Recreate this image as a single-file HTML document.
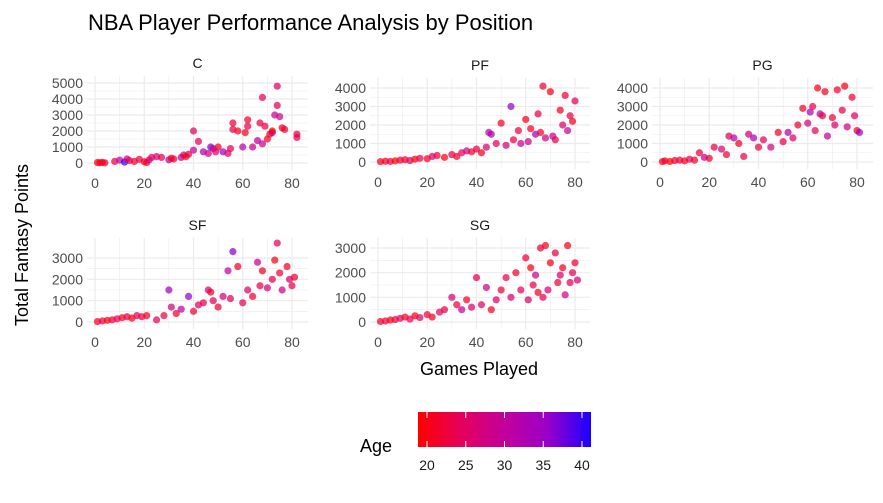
<!DOCTYPE html>
<html><head><meta charset="utf-8"><style>
body{margin:0;background:#fff;font-family:"Liberation Sans",sans-serif}
svg text{font-family:"Liberation Sans",sans-serif}
</style></head><body>
<svg id="c" width="883" height="498" xmlns="http://www.w3.org/2000/svg">
<defs><linearGradient id="g" x1="0" x2="1"><stop offset="0" stop-color="#ff0000"/><stop offset="0.25" stop-color="#e4005a"/><stop offset="0.5" stop-color="#c2009c"/><stop offset="0.75" stop-color="#9a00c8"/><stop offset="1" stop-color="#1a00ff"/></linearGradient></defs>
<text x="88" y="30" font-size="22" fill="#000">NBA Player Performance Analysis by Position</text>
<text transform="translate(28,245) rotate(-90)" text-anchor="middle" font-size="18">Total Fantasy Points</text>
<text x="479" y="375" text-anchor="middle" font-size="18">Games Played</text>
<g>
<text x="360" y="452" font-size="18">Age</text>
<rect x="418" y="412" width="173" height="35" fill="url(#g)"/>
<g id="lt"></g>
</g>
<g id="panels"></g>
</svg>
<script>
const positions=["C","PF","PG","SF","SG"];
const gamesC=[1,2,3,4,8,10,12,13,14,16,18,20,21,22,23,25,27,30,31,32,35,36,37,38,40,40,42,44,46,47,48,49,50,52,54,55,56,56,58,60,61,62,62,64,66,67,68,68,69,70,71,72,72,73,74,74,75,76,77,82,82];
const pointsC=[30,20,40,10,100,180,60,250,150,100,230,80,30,200,350,400,350,200,300,250,350,500,400,550,800,2000,1350,700,600,1000,900,700,1000,700,600,900,2100,2500,2000,1000,1900,2300,2700,1000,1400,2500,4100,1200,2300,1500,1800,1900,2000,3000,4800,3600,2900,2200,2100,1800,1600];
const agesC=[22,21,20,23,24,30,40,28,25,22,24,21,22,27,25,28,24,30,22,23,31,26,20,24,30,25,25,33,28,36,29,27,22,35,26,24,24,23,22,31,22,24,23,28,31,24,25,29,24,22,21,33,20,29,26,25,28,22,23,24,25];
const gamesPF=[1,3,5,7,9,11,13,15,17,20,22,24,27,30,32,34,36,38,40,42,44,45,46,48,50,52,54,55,57,58,60,61,62,64,65,66,67,68,70,71,72,74,75,76,77,78,79,80];
const pointsPF=[20,40,30,60,100,120,80,150,200,180,300,350,250,400,300,500,600,550,700,500,800,1600,1500,1000,2100,900,3000,1200,1700,1000,2300,1100,1800,1500,2600,1600,4100,1300,3800,1400,1200,2800,2000,3600,1700,2500,2200,3300];
const agesPF=[22,21,24,20,23,22,25,21,24,22,26,23,21,24,22,25,28,23,24,21,26,30,33,25,22,27,35,24,23,29,21,28,22,34,24,22,23,27,21,30,24,22,26,23,29,24,22,25];
const gamesPG=[1,2,4,6,8,10,12,14,16,18,20,22,25,27,28,30,32,34,36,38,40,42,45,48,50,52,54,56,58,60,61,62,63,64,65,66,67,68,70,71,72,74,75,76,78,79,80,81];
const pointsPG=[20,60,30,80,100,60,150,100,500,250,200,800,700,400,1400,1300,1000,300,1500,1300,800,1200,800,1600,1100,1600,1300,2000,2900,2100,2700,3000,1700,4000,2600,2500,3800,1400,2400,2000,3900,2800,4100,1900,3500,2500,1700,1600];
const agesPG=[21,23,20,22,24,21,25,22,23,30,22,24,26,23,25,31,22,24,27,33,23,25,28,22,24,33,26,23,22,27,32,24,25,21,30,24,22,29,23,26,22,24,21,28,23,25,22,34];
const gamesSF=[1,3,5,7,9,11,13,15,17,19,21,25,28,30,31,33,35,38,40,42,44,46,47,48,50,52,54,55,56,58,60,62,64,66,67,68,70,72,73,74,75,76,78,79,80,81];
const pointsSF=[20,50,80,100,150,200,250,180,300,250,300,100,300,1500,700,400,600,1200,500,800,900,1500,1400,1000,700,1200,2400,1100,3300,2600,900,1500,1200,2800,1700,2400,1600,2000,2900,3700,2300,1500,2600,2000,1700,2100];
const agesSF=[22,24,21,23,25,22,24,21,26,23,22,25,24,34,27,22,31,35,23,26,24,28,22,25,23,27,30,24,36,22,25,26,23,29,24,22,27,24,21,25,23,28,22,26,24,23];
const gamesSG=[1,3,5,7,9,11,13,15,17,20,22,25,27,30,32,34,36,38,40,42,44,46,48,50,52,54,56,58,60,61,62,63,64,65,66,67,68,69,70,72,73,74,75,76,77,78,79,80,81];
const pointsSG=[20,40,80,100,150,200,120,250,180,300,200,400,500,1000,700,500,900,600,1800,700,1400,500,900,1300,1800,1000,2000,1300,2600,900,2200,1500,1900,1200,3000,1000,3100,1300,2400,2800,1600,1900,2200,1100,3100,1600,2000,2400,1700];
const agesSG=[22,24,21,23,25,22,24,21,26,23,22,25,24,27,23,30,22,26,24,25,28,22,26,23,24,27,22,25,23,26,21,24,29,22,23,25,22,27,21,24,23,26,22,28,21,24,25,23,27];
const gamesAll={C:gamesC,PF:gamesPF,PG:gamesPG,SF:gamesSF,SG:gamesSG};
const pointsAll={C:pointsC,PF:pointsPF,PG:pointsPG,SF:pointsSF,SG:pointsSG};
const agesAll={C:agesC,PF:agesPF,PG:agesPG,SF:agesSF,SG:agesSG};
const xTicks=[0,20,40,60,80];
const yTicksC=[0,1000,2000,3000,4000,5000];
const yTicks4=[0,1000,2000,3000,4000];
const yTicks3=[0,1000,2000,3000];
const legendTicks=[20,25,30,35,40];
const L={C:{x0:95,x80:292,y0:163,yt:83,tv:5000,yt_:yTicksC,r:[87,308,76,170]},
PF:{x0:378,x80:575,y0:162,yt:88,tv:4000,yt_:yTicks4,r:[370,590,78,169]},
PG:{x0:660,x80:857,y0:162,yt:88,tv:4000,yt_:yTicks4,r:[652,873,78,169]},
SF:{x0:95,x80:292,y0:322,yt:258,tv:3000,yt_:yTicks3,r:[87,308,238,329]},
SG:{x0:378,x80:575,y0:322,yt:248,tv:3000,yt_:yTicks3,r:[370,590,238,329]}};
const NS="http://www.w3.org/2000/svg";
function mk(t,a,p){const e=document.createElementNS(NS,t);for(const k in a)e.setAttribute(k,a[k]);p.appendChild(e);return e;}
const stops=[[20,[255,0,0]],[25,[228,0,90]],[30,[194,0,156]],[35,[154,0,200]],[41,[26,0,255]]];
function col(a){for(let i=0;i<stops.length-1;i++){const[a0,c0]=stops[i],[a1,c1]=stops[i+1];if(a<=a1||i==stops.length-2){const t=Math.max(0,Math.min(1,(a-a0)/(a1-a0)));return`rgb(${c0.map((v,j)=>Math.round(v+(c1[j]-v)*t)).join(',')})`;}}}
const P=document.getElementById('panels');
positions.forEach(pos=>{const s=L[pos];
const sx=v=>s.x0+(s.x80-s.x0)*v/80, sy=v=>s.y0-(s.y0-s.yt)*v/s.tv;
const g=mk('g',{},P);


const [l,r,t,b]=s.r;
const st=mk('text',{x:(l+r)/2,y:t-8,'text-anchor':'middle','font-size':14,fill:'#1a1a1a'},g);st.textContent=pos;


for(let i=0;i<xTicks.length-1;i++){const m=sx((xTicks[i]+xTicks[i+1])/2);mk('line',{x1:m,x2:m,y1:t,y2:b,stroke:'#ebebeb','stroke-width':0.6},g);}
for(let i=0;i<s.yt_.length-1;i++){const m=sy((s.yt_[i]+s.yt_[i+1])/2);mk('line',{x1:l,x2:r,y1:m,y2:m,stroke:'#ebebeb','stroke-width':0.6},g);}
xTicks.forEach(v=>{mk('line',{x1:sx(v),x2:sx(v),y1:t,y2:b,stroke:'#ebebeb','stroke-width':1.2},g);
const tx=mk('text',{x:sx(v),y:b+18,'text-anchor':'middle','font-size':14,fill:'#4d4d4d'},g);tx.textContent=v;

});
s.yt_.forEach(v=>{mk('line',{x1:l,x2:r,y1:sy(v),y2:sy(v),stroke:'#ebebeb','stroke-width':1.2},g);
const ty=mk('text',{x:l-4,y:sy(v)+5,'text-anchor':'end','font-size':14,fill:'#4d4d4d'},g);ty.textContent=v;

});
const gs=gamesAll[pos],ps=pointsAll[pos],as=agesAll[pos];
gs.forEach((gv,i)=>{const c=mk('circle',{cx:sx(gv),cy:sy(ps[i]),r:3.6,fill:col(as[i]),'fill-opacity':0.72},g);

});
});
const LT=document.getElementById('lt');
legendTicks.forEach(v=>{const x=427+(582-427)*(v-20)/20;
mk('line',{x1:x,x2:x,y1:412,y2:418,stroke:'#fff','stroke-width':1},LT);
mk('line',{x1:x,x2:x,y1:441,y2:447,stroke:'#fff','stroke-width':1},LT);
const t=mk('text',{x:x,y:470,'text-anchor':'middle','font-size':14,fill:'#1a1a1a'},LT);t.textContent=v;

});
</script>
</body></html>
